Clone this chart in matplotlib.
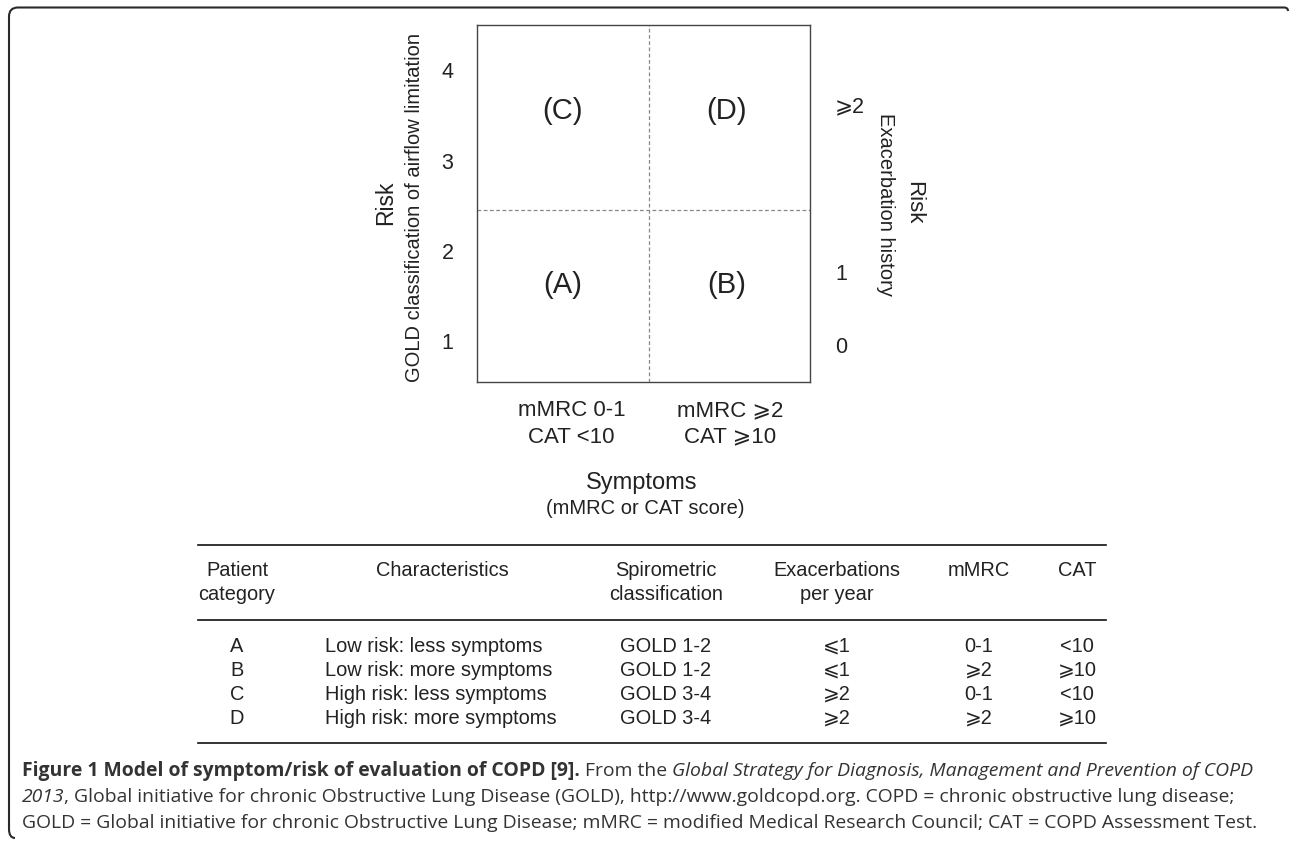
import matplotlib
matplotlib.use("Agg")
import matplotlib.pyplot as plt
from matplotlib.path import Path
from matplotlib.patches import PathPatch

plt.rcParams["font.family"] = ["Liberation Sans", "DejaVu Sans"]

W, H = 1290, 841

# quadrant diagram
gold_grades = [1, 2, 3, 4]
exac_labels = ["0", "1", "⩾2"]
exac_pos = [0.96, 1.77, 3.62]
symptom_labels = ["mMRC 0-1\nCAT <10", "mMRC ⩾2\nCAT ⩾10"]
symptom_pos = [0.55, 1.47]
quadrants = ["(A)", "(B)", "(C)", "(D)"]
quad_x = [0.5, 1.45, 0.5, 1.45]
quad_y = [1.62, 1.62, 3.55, 3.55]

# table
header = [["Patient", "category"], ["Characteristics"],
          ["Spirometric", "classification"], ["Exacerbations", "per year"],
          ["mMRC"], ["CAT"]]
categories = ["A", "B", "C", "D"]
characteristics = ["Low risk: less symptoms", "Low risk: more symptoms",
                   "High risk: less symptoms", "High risk: more symptoms"]
spirometric = ["GOLD 1-2", "GOLD 1-2", "GOLD 3-4", "GOLD 3-4"]
exacerbations = ["⩽1", "⩽1", "⩾2", "⩾2"]
mmrc = ["0-1", "⩾2", "0-1", "⩾2"]
cat = ["<10", "⩾10", "<10", "⩾10"]

caption = [
    [("Figure 1 Model of symptom/risk of evaluation of COPD [9].", "bold", "normal"),
     (" From the", "normal", "normal"),
     (" Global Strategy for Diagnosis, Management and Prevention of COPD", "normal", "italic")],
    [("2013", "normal", "italic"),
     (", Global initiative for chronic Obstructive Lung Disease (GOLD), "
      "http://www.goldcopd.org. COPD = chronic obstructive lung disease;", "normal", "normal")],
    [("GOLD = Global initiative for chronic Obstructive Lung Disease; mMRC = modified "
      "Medical Research Council; CAT = COPD Assessment Test.", "normal", "normal")],
]

fig = plt.figure(figsize=(W / 100, H / 100), dpi=100)
bg = fig.add_axes([0, 0, 1, 1])
bg.set_xlim(0, W)
bg.set_ylim(H, 0)
bg.axis("off")

# outer frame (top and left edges with rounded corners)
verts = [(1288, 11), (1288, 7.5), (1284, 7.5), (18, 7.5), (9, 7.5), (9, 16.5),
         (9, 829), (9, 838), (15, 838)]
codes = [Path.MOVETO, Path.CURVE3, Path.CURVE3, Path.LINETO, Path.CURVE3, Path.CURVE3,
         Path.LINETO, Path.CURVE3, Path.CURVE3]
bg.add_patch(PathPatch(Path(verts, codes), fill=False, lw=1.5, color="#2a2a2a"))

# quadrant axes
ax = fig.add_axes([477 / W, 1 - 382 / H, 333 / W, 357 / H])
ax.set_xlim(0, 333 / 172)
ax.set_ylim(0.55, 4.5)
ax.axvline(1, ls=(0, (3, 2)), color="#888888", lw=0.9)
ax.axhline(2.45, ls=(0, (3, 2)), color="#888888", lw=0.9)
for s in ax.spines.values():
    s.set_color("#444444")
    s.set_linewidth(1.0)
for lab, x, y in zip(quadrants, quad_x, quad_y):
    ax.text(x, y, lab, ha="center", va="center", fontsize=21, color="#222222")
ax.set_yticks(gold_grades, [str(g) for g in gold_grades])
ax.set_xticks(symptom_pos, symptom_labels)
ax.tick_params(axis="y", length=0, pad=17, labelsize=15.5, labelcolor="#222222")
ax.tick_params(axis="x", length=0, pad=13, labelsize=16, labelcolor="#222222")
for t in ax.get_xticklabels():
    t.set_linespacing(1.35)

ax2 = ax.twinx()
ax2.set_ylim(ax.get_ylim())
ax2.set_yticks(exac_pos, exac_labels)
ax2.tick_params(axis="y", length=0, pad=18, labelsize=15.5, labelcolor="#222222")
for s in ax2.spines.values():
    s.set_visible(False)

# axis titles
bg.text(386, 203, "Risk", rotation=90, ha="center", va="center", fontsize=16.5, color="#222222")
bg.text(414, 207, "GOLD classification of airflow limitation", rotation=90,
        ha="center", va="center", fontsize=14.5, color="#222222")
bg.text(914, 203, "Risk", rotation=270, ha="center", va="center", fontsize=16, color="#222222")
bg.text(886, 204, "Exacerbation history", rotation=270, ha="center", va="center",
        fontsize=14.5, color="#222222")
bg.text(642, 483, "Symptoms", ha="center", va="center", fontsize=17, color="#222222")
bg.text(645, 509, "(mMRC or CAT score)", ha="center", va="center", fontsize=14.5,
        color="#222222")

# table
for y in [545, 620, 743]:
    bg.plot([198, 1106], [y, y], color="#111111", lw=1.2)
col_x = [237, 442, 666, 837, 979, 1077]
for cx, lines in zip(col_x, header):
    for i, line in enumerate(lines):
        bg.text(cx, 570 + i * 24, line, ha="center", va="center", fontsize=14.4,
                color="#222222")
columns = [categories, characteristics, spirometric, exacerbations, mmrc, cat]
for j, col in enumerate(columns):
    for i, val in enumerate(col):
        y = 646 + i * 24
        if j == 1:
            bg.text(325, y, val, ha="left", va="center", fontsize=14.4, color="#222222")
        else:
            bg.text(col_x[j], y, val, ha="center", va="center", fontsize=14.4,
                    color="#222222")

# caption with mixed styles
renderer = fig.canvas.get_renderer()


def run_texts(x, y, runs, size):
    texts = []
    for txt, weight, style in runs:
        t = bg.text(x, y, txt, fontsize=size, fontweight=weight, fontstyle=style,
                    family=["Open Sans", "DejaVu Sans"], ha="left", va="center",
                    color="#333333")
        x += t.get_window_extent(renderer).width
        texts.append(t)
    return texts, x


tmp, end = run_texts(0, 0, caption[0], 14)
for t in tmp:
    t.remove()
cap_size = 14 * 1236 / end

for i, runs in enumerate(caption):
    run_texts(22, 771 + i * 26, runs, cap_size)

fig.savefig("out.png", dpi=100)
